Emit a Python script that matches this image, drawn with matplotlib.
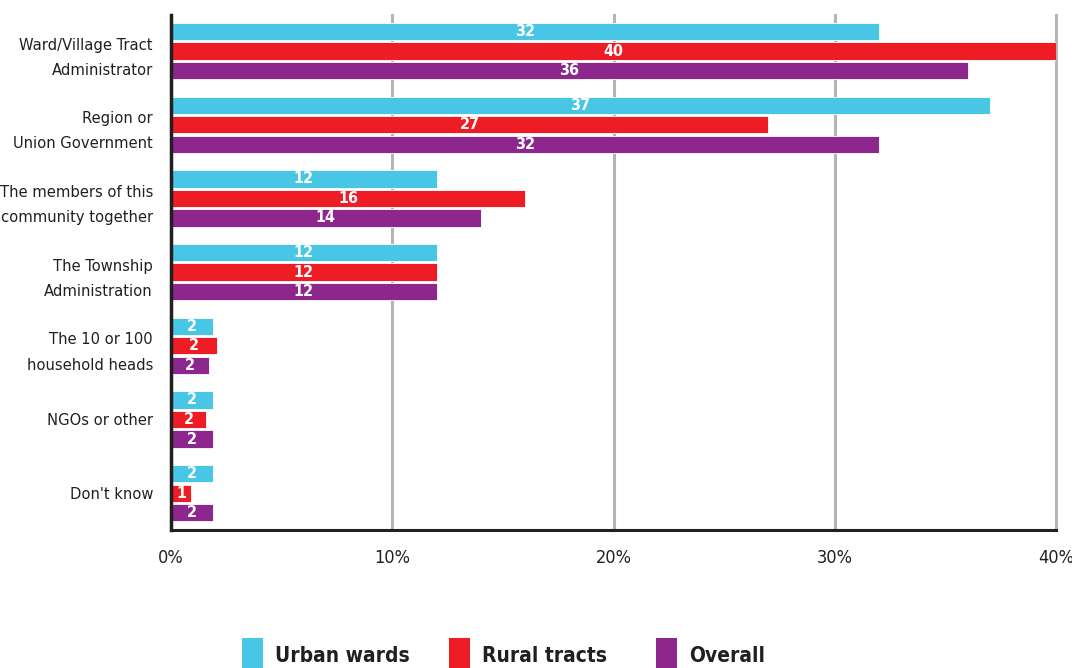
import matplotlib
matplotlib.use("Agg")
import matplotlib.pyplot as plt
from matplotlib.patches import Rectangle
import numpy as np

categories = ["Ward/Village Tract\nAdministrator", "Region or\nUnion Government",
              "The members of this\ncommunity together", "The Township\nAdministration",
              "The 10 or 100\nhousehold heads", "NGOs or other", "Don't know"]
urban = [32, 37, 12, 12, 1.9, 1.9, 1.9]
rural = [40, 27, 16, 12, 2.1, 1.6, 0.9]
overall = [36, 32, 14, 12, 1.7, 1.9, 1.9]
series_names = ["Urban wards", "Rural tracts", "Overall"]
colors = ["#48C6E6", "#EE1C25", "#8D278E"]
xticks = [0, 10, 20, 30, 40]
xticklabels = ["0%", "10%", "20%", "30%", "40%"]

FONT = ["DejaVu Sans"]
ST = "condensed"
TXT = "#231f20"

fig = plt.figure(figsize=(10.72, 6.68), dpi=100)
ax = fig.add_axes([171/1072, 1-530/668, (1056-171)/1072, (530-15)/668])

y = np.arange(len(categories))
off = 0.265
h = 0.235
for k, (vals, c) in enumerate(zip([urban, rural, overall], colors)):
    pos = y + (k-1)*off
    bars = ax.barh(pos, vals, height=h, color=c, edgecolor="white", linewidth=0.6, zorder=3)
    for b, v in zip(bars, vals):
        ax.text(b.get_width()/2, b.get_y()+b.get_height()/2, f"{round(v)}",
                ha="center", va="center", color="white", fontsize=11.5,
                fontweight="bold", family=FONT, stretch=ST, zorder=4)

ax.set_xlim(0, 40)
ax.set_ylim(6.5, -0.49)
ax.set_xticks(xticks)
ax.set_xticklabels(xticklabels, family=FONT, stretch=ST, fontsize=13, color=TXT)
ax.set_yticks(y)
ax.set_yticklabels(categories, family=FONT, stretch=ST, fontsize=11.8, color=TXT, ha="right",
                   linespacing=1.85)
ax.tick_params(axis="both", length=0)
ax.tick_params(axis="y", pad=13)
ax.tick_params(axis="x", pad=14)
for lbl in ax.get_yticklabels():
    lbl.set_multialignment("right")

ax.grid(axis="x", color="#b5b5b5", linewidth=2.2, zorder=0)
for gl in ax.get_xgridlines():
    gl.set_clip_on(False)
ax.grid(axis="y", visible=False)
ax.set_axisbelow(True)
for s in ["top", "right"]:
    ax.spines[s].set_visible(False)
ax.spines["left"].set_color("#231f20")
ax.spines["left"].set_linewidth(2.5)
ax.spines["bottom"].set_color("#231f20")
ax.spines["bottom"].set_linewidth(2.2)
ax.spines["left"].set_zorder(5)

# legend
leg_x = [242, 449, 656]
for lx, name, c in zip(leg_x, series_names, colors):
    fig.add_artist(Rectangle((lx/1072, 0), 21/1072, 30/668, transform=fig.transFigure,
                             facecolor=c, edgecolor="none"))
    fig.text((lx+33)/1072, 2/668, name, family=FONT, stretch=ST, fontsize=15, fontweight="bold",
             color=TXT, ha="left", va="bottom")

fig.savefig("out.png", dpi=100)
